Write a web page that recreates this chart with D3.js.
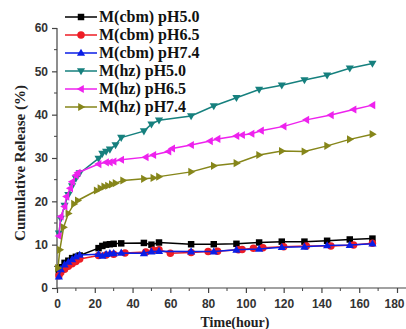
<!DOCTYPE html>
<html>
<head>
<meta charset="utf-8">
<script src="https://cdn.jsdelivr.net/npm/d3@7"></script>
<style>
  body { margin: 0; background: #fff; }
  svg { display: block; }
</style>
</head>
<body>
<div id="chart"></div>
<script>
// series: [hour, cumulative release %]
const cbmPH50 = [[1,3.8],[2,4.8],[4,5.8],[6,6.3],[8,6.9],[10,7.2],[12,7.5],[22,9.2],[24,9.7],[26,10],[28,10.1],[30,10.2],[34,10.3],[46,10.4],[50,10],[54,10.5],[71,10.1],[83,10.1],[95,10.2],[107,10.5],[119,10.7],[131,10.7],[143,10.9],[155,11.2],[167,11.4]];
const cbmPH65 = [[1,2.8],[2,3.6],[4,4.3],[6,5],[8,5.6],[10,6.1],[12,6.7],[22,7.5],[26,7.6],[30,7.8],[36,8.1],[47,8.3],[51,8.7],[54,8.8],[60,8],[71,8.2],[80,8.4],[85,8.5],[96,8.8],[98,8.9],[104,9.2],[109,9.3],[120,9.5],[132,9.7],[145,9.7],[157,9.9],[167,10.3]];
const cbmPH74 = [[1,2.6],[2,4.3],[4,5.4],[6,6],[8,6.6],[10,7.2],[12,7.6],[22,7.8],[24,7.4],[26,7.8],[28,8],[30,8],[34,8.1],[46,8],[50,8.4],[54,8.5],[71,8.4],[83,8.4],[95,8.8],[107,9],[119,9.4],[131,9.5],[143,9.8],[155,9.9],[167,10.2]];
const hzPH50 = [[1,12.6],[2,16],[4,19],[6,21.5],[8,23.5],[10,25.3],[12,26.5],[22,29.9],[24,31],[26,31.5],[28,32],[31,33],[34,34.7],[46,36.2],[50,37.8],[54,38.7],[71,39.7],[83,42],[95,43.9],[107,45.8],[119,46.8],[131,48],[143,49.1],[155,50.7],[167,51.8]];
const hzPH65 = [[1,12],[2,16.5],[4,18.8],[5,21.1],[7,23],[8,24.5],[10,26],[11,26.6],[22,28.6],[26,29],[28,29],[30,29.2],[34,29.6],[47,30.2],[51,30.7],[59,31.5],[61,32.2],[71,33],[81,33.9],[85,34.4],[95,35.1],[98,35.3],[103,35.6],[108,36.3],[120,37.3],[132,38.8],[145,39.9],[157,41.2],[167,42.2]];
const hzPH74 = [[0.5,4.6],[1.5,8.8],[3.5,14],[6,17.2],[9,19.4],[11,20.2],[21,22.5],[23,23],[25,23.4],[27,23.6],[29,23.9],[31,24.2],[35,24.8],[46,25.2],[51,25.4],[54,25.7],[71,26.8],[83,28.2],[95,28.8],[107,30.7],[119,31.6],[131,31.5],[143,32.8],[155,34.3],[167,35.5]];

const seriesNames = ['M(cbm) pH5.0', 'M(cbm) pH6.5', 'M(cbm) pH7.4', 'M(hz) pH5.0', 'M(hz) pH6.5', 'M(hz) pH7.4'];
const seriesData = [cbmPH50, cbmPH65, cbmPH74, hzPH50, hzPH65, hzPH74];
const xTicks = [0, 20, 40, 60, 80, 100, 120, 140, 160, 180];
const yTicks = [0, 10, 20, 30, 40, 50, 60];

const colors = ['#000000', '#ee1c25', '#0a1ee6', '#16807e', '#ee22ee', '#86861a'];
const shapes = [d3.symbolSquare, d3.symbolCircle, 'up', 'down', 'left', 'right'];

const width = 406, height = 329;
const x = d3.scaleLinear().domain([0, 180]).range([57, 397]);
const y = d3.scaleLinear().domain([0, 60]).range([288, 28]);

const svg = d3.select('#chart').append('svg')
    .attr('width', width)
    .attr('height', height);

// marker drawing
function marker(g, shape, color, size) {
    if (typeof shape === 'string') {
        const s = size;
        let pts;
        if (shape === 'up') pts = [[0, -s], [s * 0.95, s * 0.65], [-s * 0.95, s * 0.65]];
        if (shape === 'down') pts = [[0, s], [s * 0.95, -s * 0.65], [-s * 0.95, -s * 0.65]];
        if (shape === 'left') pts = [[-s, 0], [s * 0.65, -s * 0.95], [s * 0.65, s * 0.95]];
        if (shape === 'right') pts = [[s, 0], [-s * 0.65, -s * 0.95], [-s * 0.65, s * 0.95]];
        g.append('path').attr('d', 'M' + pts.join('L') + 'Z').attr('fill', color);
    } else {
        const area = shape === d3.symbolSquare ? 42 : 44;
        g.append('path').attr('d', d3.symbol().type(shape).size(area)()).attr('fill', color);
    }
}

const tickFont = a => a.selectAll('text').attr('fill', '#333')
    .style('font-family', 'Liberation Sans, Arial, sans-serif')
    .style('font-size', '12px').style('font-weight', 'bold');

// axes
const xAxis = svg.append('g').attr('transform', 'translate(0,' + y(0) + ')');
xAxis.append('line').attr('x1', x(0)).attr('x2', width).attr('stroke', '#444').attr('stroke-width', 1.2);
xAxis.selectAll('.minor').data(d3.range(10, 190, 20)).join('line')
    .attr('x1', d => x(d)).attr('x2', d => x(d)).attr('y1', 0).attr('y2', 3)
    .attr('stroke', '#444');
xAxis.append('g').call(d3.axisBottom(x).tickValues(xTicks).tickSize(5).tickPadding(6))
    .call(a => a.select('.domain').remove())
    .call(a => a.selectAll('line').attr('stroke', '#444').attr('stroke-width', 1.2))
    .call(tickFont)
    .call(a => a.selectAll('.tick').filter(d => d === 180).select('text').attr('dx', '-3'));

const yAxis = svg.append('g').attr('transform', 'translate(' + x(0) + ',0)');
yAxis.append('line').attr('y1', y(0)).attr('y2', y(60)).attr('stroke', '#444').attr('stroke-width', 1.2);
yAxis.selectAll('.minor').data(d3.range(5, 60, 10)).join('line')
    .attr('y1', d => y(d)).attr('y2', d => y(d)).attr('x1', 0).attr('x2', -3)
    .attr('stroke', '#444');
yAxis.append('g').call(d3.axisLeft(y).tickValues(yTicks).tickSize(5).tickPadding(4))
    .call(a => a.select('.domain').remove())
    .call(a => a.selectAll('line').attr('stroke', '#444').attr('stroke-width', 1.2))
    .call(tickFont);

// axis titles
svg.append('text')
    .attr('transform', 'translate(25,163) rotate(-90)')
    .attr('text-anchor', 'middle')
    .style('font-family', 'Liberation Serif, Times New Roman, serif')
    .style('font-weight', 'bold')
    .style('font-size', '15px')
    .attr('fill', '#222')
    .text('Cumulative Release (%)');

svg.append('text')
    .attr('x', 235)
    .attr('y', 327)
    .attr('text-anchor', 'middle')
    .style('font-family', 'Liberation Serif, Times New Roman, serif')
    .style('font-weight', 'bold')
    .style('font-size', '14px')
    .attr('fill', '#222')
    .text('Time(hour)');

// series
const line = d3.line().x(d => x(d[0])).y(d => y(d[1]));
seriesData.forEach((data, i) => {
    svg.append('path')
        .attr('d', line(data))
        .attr('fill', 'none')
        .attr('stroke', colors[i])
        .attr('stroke-width', 1.5);
    data.forEach(d => {
        const g = svg.append('g').attr('transform', 'translate(' + x(d[0]) + ',' + y(d[1]) + ')');
        marker(g, shapes[i], colors[i], 4.3);
    });
});

// legend
const legend = svg.append('g');
seriesNames.forEach((name, i) => {
    const ly = 17 + i * 18;
    legend.append('line').attr('x1', 65).attr('x2', 97).attr('y1', ly).attr('y2', ly)
        .attr('stroke', colors[i]).attr('stroke-width', 1.5);
    const g = legend.append('g').attr('transform', 'translate(81,' + ly + ')');
    marker(g, shapes[i], colors[i], 4.3);
    legend.append('text')
        .attr('x', 99).attr('y', ly + 5)
        .style('font-family', 'Liberation Serif, Times New Roman, serif')
        .style('font-weight', 'bold')
        .style('font-size', '16px')
        .attr('fill', '#111')
        .text(name);
});
</script>
</body>
</html>
